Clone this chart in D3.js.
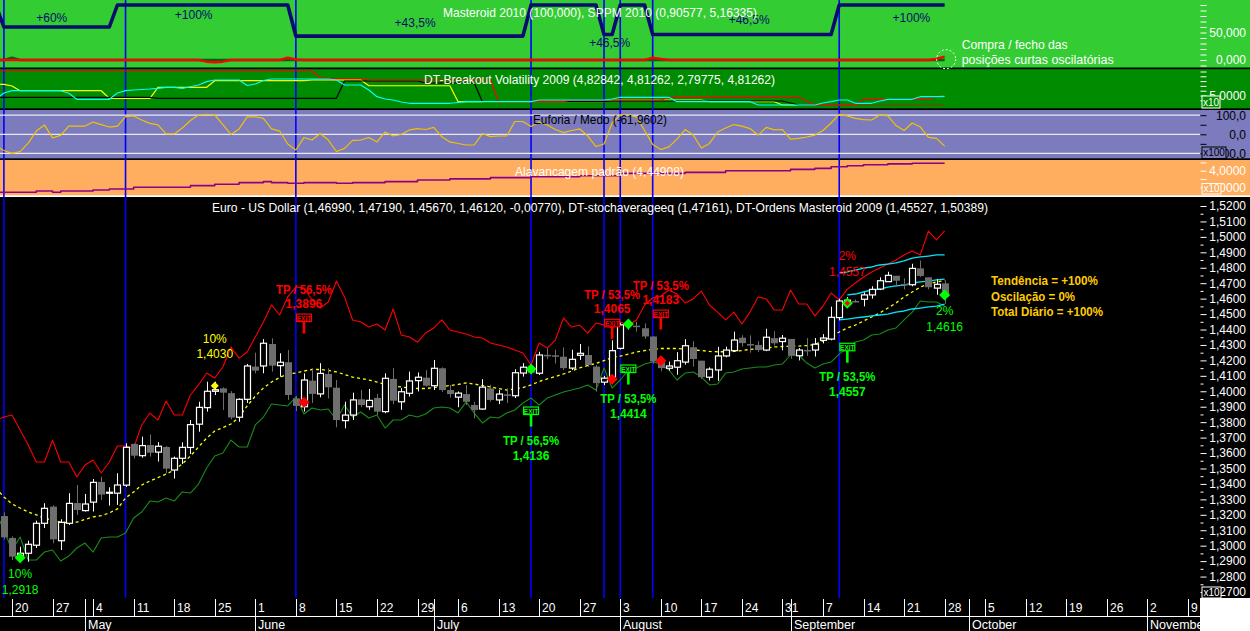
<!DOCTYPE html>
<html><head><meta charset="utf-8">
<script src="https://cdn.jsdelivr.net/npm/d3@7"></script>
<style>html,body{margin:0;padding:0;background:#000;overflow:hidden}svg{display:block}text{font-family:"Liberation Sans",Arial,sans-serif}</style>
</head><body><svg id="chart" width="1250" height="631"></svg>
<script>
// ---------- DATA (index 0 = 16 Apr 2009, one entry per trading day) ----------
const weekLabels = ["20","27","4","11","18","25","1","8","15","22","29","6","13","20","27","3","10","17","24","31","7","14","21","28","5","12","19","26","2","9"];
const monthLabels = ["May","June","July","August","September","October","November"];
const monthStartIdx = [11,32,54,77,98,120,142];
const signalDays = [1,16,37,66,75,77,81,104];

const open = [null,1.3192,1.3050,1.2920,1.2951,1.3003,1.3145,1.3253,1.3032,1.3145,
1.3276,1.3227,1.3282,1.3413,1.3340,1.3340,1.3392,1.3659,1.3583,1.3652,
1.3606,1.3639,1.3490,1.3566,1.3636,1.3787,1.3894,1.4000,1.4019,1.3988,
1.3832,1.3948,1.4160,1.4164,1.4306,1.4166,1.4188,1.3954,1.3900,1.4069,
1.3983,1.4112,1.4023,1.3810,1.3846,1.3948,1.3900,1.3957,1.3868,1.4080,
1.3932,1.3987,1.4069,1.4088,1.4036,1.4149,1.4008,1.3962,1.3982,1.3911,
1.3885,1.4019,1.3944,1.3980,1.3971,1.4118,1.4150,1.4117,1.4236,1.4233,
1.4224,1.4150,1.4233,1.4235,1.4160,1.4059,1.4091,1.4278,1.4430,1.4425,
1.4408,1.4355,1.4192,1.4149,1.4156,1.4189,1.4285,1.4198,1.4091,1.4138,
1.4229,1.4263,1.4347,1.4306,1.4300,1.4267,1.4344,1.4322,1.4339,1.4230,
1.4268,1.4267,1.4330,1.4338,1.4477,1.4565,1.4585,1.4596,1.4624,1.4662,
1.4710,1.4748,1.4695,1.4690,1.4796,1.4738,1.4668,1.4699];
const high = [null,1.3215,1.3060,1.2993,1.3032,1.3162,1.3275,1.3262,1.3171,1.3340,
1.3393,1.3335,1.3432,1.3447,1.3378,1.3469,1.3663,1.3663,1.3706,1.3721,
1.3671,1.3645,1.3577,1.3669,1.3814,1.3932,1.4062,1.4062,1.4025,1.4001,
1.3954,1.4177,1.4250,1.4338,1.4343,1.4246,1.4267,1.3970,1.4116,1.4149,
1.4182,1.4149,1.4073,1.3932,1.3991,1.4008,1.4015,1.3983,1.4116,1.4150,
1.4020,1.4127,1.4122,1.4137,1.4203,1.4155,1.4041,1.3999,1.4041,1.3932,
1.4079,1.4041,1.4008,1.4019,1.4143,1.4182,1.4170,1.4256,1.4278,1.4270,
1.4284,1.4269,1.4306,1.4291,1.4170,1.4100,1.4330,1.4445,1.4460,1.4450,
1.4440,1.4355,1.4210,1.4192,1.4253,1.4338,1.4325,1.4198,1.4155,1.4288,
1.4289,1.4386,1.4363,1.4362,1.4325,1.4405,1.4389,1.4365,1.4339,1.4280,
1.4345,1.4345,1.4370,1.4548,1.4600,1.4610,1.4595,1.4640,1.4680,1.4738,
1.4774,1.4748,1.4731,1.4826,1.4847,1.4738,1.4725,1.4719];
const low = [null,1.3040,1.2907,1.2907,1.2896,1.2985,1.3115,1.3015,1.2972,1.3134,
1.3199,1.3221,1.3221,1.3296,1.3260,1.3264,1.3380,1.3566,1.3570,1.3577,
1.3545,1.3469,1.3435,1.3529,1.3594,1.3738,1.3868,1.3976,1.3879,1.3818,
1.3803,1.3925,1.4117,1.4117,1.4127,1.4094,1.3944,1.3872,1.3869,1.3924,
1.3961,1.3954,1.3767,1.3760,1.3814,1.3897,1.3880,1.3848,1.3858,1.3917,
1.3880,1.3966,1.3999,1.4030,1.4008,1.3996,1.3959,1.3897,1.3911,1.3825,
1.3880,1.3933,1.3917,1.3924,1.3956,1.4095,1.4110,1.4105,1.4208,1.4180,
1.4137,1.4137,1.4203,1.4157,1.3997,1.4040,1.4050,1.4270,1.4400,1.4387,
1.4340,1.4180,1.4130,1.4134,1.4107,1.4173,1.4160,1.4080,1.4070,1.4068,
1.4220,1.4255,1.4290,1.4250,1.4255,1.4260,1.4295,1.4265,1.4210,1.4200,
1.4230,1.4225,1.4310,1.4330,1.4460,1.4545,1.4575,1.4550,1.4600,1.4655,
1.4710,1.4677,1.4660,1.4680,1.4740,1.4660,1.4625,1.4567];
const close = [null,1.3054,1.2929,1.2951,1.3009,1.3145,1.3242,1.3041,1.3151,1.3274,
1.3231,1.3270,1.3410,1.3331,1.3346,1.3393,1.3637,1.3583,1.3648,1.3602,
1.3644,1.3499,1.3566,1.3637,1.3784,1.3896,1.4000,1.4010,1.3991,1.3830,
1.3948,1.4164,1.4134,1.4311,1.4166,1.4188,1.3976,1.3905,1.4073,1.3983,
1.4116,1.4026,1.3814,1.3846,1.3944,1.3911,1.3941,1.3868,1.4084,1.3939,
1.3997,1.4067,1.4091,1.4036,1.4149,1.4008,1.3982,1.3988,1.3932,1.3878,
1.4027,1.3944,1.3982,1.3976,1.4120,1.4156,1.4120,1.4235,1.4233,1.4231,
1.4150,1.4207,1.4246,1.4170,1.4053,1.4085,1.4263,1.4430,1.4436,1.4418,
1.4355,1.4193,1.4150,1.4164,1.4198,1.4295,1.4209,1.4091,1.4143,1.4229,
1.4267,1.4332,1.4312,1.4304,1.4267,1.4350,1.4311,1.4344,1.4230,1.4267,
1.4265,1.4305,1.4345,1.4479,1.4585,1.4590,1.4578,1.4624,1.4660,1.4716,
1.4751,1.4716,1.4693,1.4796,1.4747,1.4674,1.4693,1.4612];

const upperBand = [1.3814,1.3833,1.3846,1.3749,1.3652,1.3542,1.3542,1.3684,1.3542,1.3542,
1.3445,1.3522,1.3555,1.3471,1.3542,1.3646,1.3646,1.3633,1.3782,1.3859,
1.3814,1.3937,1.3846,1.3846,1.3976,1.4041,1.4118,1.4086,1.4157,1.4287,
1.4215,1.4254,1.4352,1.4449,1.4559,1.4494,1.4611,1.4675,1.4669,1.4591,
1.4539,1.4578,1.4714,1.4611,1.4462,1.4449,1.4416,1.4436,1.4397,1.4533,
1.4365,1.4352,1.4319,1.4377,1.4410,1.4462,1.4397,1.4384,1.4371,1.4352,
1.4345,1.4313,1.4300,1.4287,1.4267,1.4248,1.4170,1.4313,1.4280,1.4332,
1.4475,1.4416,1.4429,1.4377,1.4442,1.4429,1.4410,1.4449,1.4429,1.4462,
1.4559,1.4604,1.4617,1.4656,1.4630,1.4572,1.4598,1.4649,1.4559,1.4513,
1.4462,1.4513,1.4436,1.4513,1.4611,1.4598,1.4526,1.4526,1.4656,1.4565,
1.4565,1.4488,1.4552,1.4637,1.4591,1.4662,1.4701,1.4740,1.4773,1.4798,
1.4824,1.4850,1.4883,1.4909,1.4883,1.5038,1.4980,1.5039];
const lowerBand = [1.3218,1.3101,1.2972,1.3056,1.2907,1.2907,1.2959,1.2972,1.2901,1.2933,
1.2985,1.3017,1.2959,1.3050,1.3056,1.3056,1.3082,1.3179,1.3218,1.3289,
1.3283,1.3309,1.3289,1.3348,1.3341,1.3399,1.3503,1.3581,1.3600,1.3684,
1.3639,1.3639,1.3782,1.3833,1.3918,1.3911,1.3905,1.3963,1.3853,1.3892,
1.3879,1.3885,1.3814,1.3911,1.3833,1.3866,1.3827,1.3846,1.3762,1.3814,
1.3814,1.3846,1.3833,1.3853,1.3892,1.3898,1.3892,1.3859,1.3931,1.3859,
1.3795,1.3833,1.3827,1.3859,1.3879,1.3924,1.3956,1.3911,1.3956,1.3976,
1.3995,1.4008,1.4021,1.4041,1.4008,1.4151,1.4021,1.4073,1.4138,1.4151,
1.4177,1.4190,1.4177,1.4138,1.4073,1.4118,1.4125,1.4092,1.4041,1.4047,
1.4118,1.4125,1.4144,1.4151,1.4157,1.4157,1.4170,1.4177,1.4235,1.4235,
1.4183,1.4151,1.4177,1.4190,1.4241,1.4280,1.4319,1.4332,1.4365,1.4371,
1.4397,1.4410,1.4462,1.4513,1.4585,1.4578,1.4578,1.4553];
const stochAvg = [1.3374,1.3315,1.3270,1.3244,1.3218,1.3199,1.3179,1.3163,1.3153,1.3149,
1.3153,1.3170,1.3186,1.3195,1.3212,1.3238,1.3309,1.3348,1.3393,1.3419,
1.3441,1.3464,1.3490,1.3529,1.3581,1.3639,1.3697,1.3743,1.3765,1.3788,
1.3833,1.3905,1.3969,1.4021,1.4060,1.4089,1.4112,1.4118,1.4131,1.4141,
1.4141,1.4135,1.4125,1.4109,1.4092,1.4083,1.4073,1.4060,1.4044,1.4034,
1.4028,1.4021,1.4018,1.4018,1.4024,1.4031,1.4037,1.4044,1.4054,1.4047,
1.4037,1.4028,1.4018,1.4008,1.4015,1.4024,1.4041,1.4063,1.4080,1.4096,
1.4112,1.4131,1.4151,1.4167,1.4180,1.4199,1.4219,1.4228,1.4241,1.4254,
1.4264,1.4271,1.4277,1.4277,1.4277,1.4274,1.4267,1.4264,1.4258,1.4256,
1.4256,1.4258,1.4264,1.4271,1.4277,1.4280,1.4287,1.4290,1.4293,1.4293,
1.4296,1.4303,1.4326,1.4352,1.4384,1.4410,1.4429,1.4455,1.4481,1.4507,
1.4539,1.4572,1.4611,1.4643,1.4675,1.4695,1.4708,1.4716];
const channelStart = 104;
const channelTop = [1.4766,1.4773,1.4785,1.4798,1.4805,1.4818,1.4824,1.4831,1.4844,1.4863,1.4870,1.4876,1.4883,1.4883];
const channelMid = [null,1.4624,1.4630,1.4643,1.4656,1.4662,1.4675,1.4682,1.4688,1.4701,1.4708,1.4714,1.4721,1.4727];
const channelLow = [1.4462,1.4468,1.4475,1.4481,1.4488,1.4494,1.4500,1.4513,1.4520,1.4533,1.4539,1.4546,1.4552,1.4565];

const masteroid = [100,60,60,60,60,60,60,60,60,60,
60,60,60,60,60,100,100,100,100,100,
100,100,100,100,100,100,100,100,100,100,
100,100,100,100,100,100,100,43.5,43.5,43.5,
43.5,43.5,43.5,43.5,43.5,43.5,43.5,43.5,43.5,43.5,
43.5,43.5,43.5,43.5,43.5,43.5,43.5,43.5,43.5,43.5,
43.5,43.5,43.5,43.5,43.5,43.5,100,100,100,100,
100,100,100,100,100,46.5,46.5,100,100,100,
100,46.5,46.5,46.5,46.5,46.5,46.5,46.5,46.5,46.5,
46.5,46.5,46.5,46.5,46.5,46.5,46.5,46.5,46.5,46.5,
46.5,46.5,46.5,46.5,100,100,100,100,100,100,
100,100,100,100,100,100,100,100];
const sppmShort = [0,0,0,0,0,0,0,0,0,0, 0,0,0,0,0,0,0,0,0,0, 0,0,0,0,0,0,-3,-4,-3,0,
0,0,0,0,0,0,4,1,0,0, 0,0,0,0,0,0,0,0,0,0, 0,0,0,0,0,0,0,0,0,0, 0,0,0,0,0,0,0,0,0,0,
0,0,0,0,0,0,0,0,0,0, 0,4,2,0,0,0,0,0,0,0, 0,0,0,0,0,0,0,0,0,0, 0,0,0,0,0,0,0,0,0,0,
0,0,0,0,0,0,2,6];
const sppmLong = [0,0,4,0,0,0,0,0,0,0, 0,0,0,0,0,0,0,0,0,0, 0,0,0,0,0,0,0,0,0,0,
0,0,0,0,0,0,0,0,0,0, 0,0,0,0,0,0,0,0,0,0, 0,0,0,0,0,0,0,0,0,0, 0,0,0,0,0,0,0,0,0,0,
0,0,0,0,0,0,0,0,0,0, 0,0,0,0,0,0,0,0,0,0, 0,0,0,0,0,0,0,0,0,0, 0,0,0,0,0,0,0,0,0,0,
0,0,0,0,0,0,0,0];
const masteroidLabels = [
  {i:6.9, level:60, text:"+60%", dy:-5},
  {i:24.4, level:100, text:"+100%", dy:13.5},
  {i:51.7, level:43.5, text:"+43,5%", dy:-9.5},
  {i:75.7, level:46.5, text:"+46,5%", dy:12.6},
  {i:92.9, level:46.5, text:"+46,5%", dy:-10},
  {i:112.9, level:100, text:"+100%", dy:16.5}
];

const brkRed = [10.10,10.10,10.10,10.10,10.10,10.10,10.10,10.10,10.10,10.10,
10.10,10.10,10.10,10.10,10.10,10.10,10.10,10.10,10.10,10.10,
10.10,10.10,10.10,10.10,10.10,10.10,10.10,10.10,10.10,10.10,
10.10,10.10,10.10,10.10,10.10,10.10,10.10,10.10,10.10,10.10,
8.71,8.54,8.54,8.54,8.54,8.54,8.23,8.23,8.23,8.23,
8.23,8.23,8.23,8.23,8.23,8.23,8.23,8.23,8.23,8.23,
8.23,8.23,3.71,3.71,3.71,3.71,3.71,3.71,3.71,3.71,
3.71,4.06,4.06,4.06,4.06,4.06,4.06,4.06,4.06,4.06,
4.06,4.06,4.06,4.63,4.63,4.63,4.63,4.63,4.63,4.63,
4.63,4.63,4.63,4.63,4.63,4.63,4.63,4.63,4.63,4.63,
3.85,3.02,3.02,3.02,3.02,3.02,3.02,4.21,4.21,4.21,
4.21,4.21,4.21,4.21,4.21,4.21,4.83,4.83];
const brkYellow = [7.33,7.33,6.98,6.00,6.00,6.00,6.00,6.00,6.00,6.00,
6.00,6.00,6.00,6.00,4.42,4.42,4.42,4.42,4.42,4.42,
6.71,6.71,6.71,6.71,6.71,6.71,6.71,8.08,8.08,8.08,
8.08,8.08,8.08,8.08,8.08,8.08,8.08,8.08,8.08,8.23,
8.23,8.23,8.23,8.23,8.23,8.23,7.03,7.03,7.03,7.03,
7.03,7.03,7.03,7.03,7.03,7.03,7.03,3.71,3.71,3.71,
3.71,3.71,3.71,3.71,3.71,3.71,3.71,3.71,3.71,3.71,
3.71,3.71,3.71,3.71,3.71,3.71,4.06,4.06,4.06,4.06,
4.06,4.06,4.06,4.06,4.06,4.06,4.06,4.06,3.71,3.71,
3.71,3.71,3.71,3.71,3.71,3.71,3.71,3.02,3.02,3.02,
3.02,3.02,3.02,3.02,3.02,3.02,3.02,3.02,3.02,3.02,
3.02,3.02,3.02,3.02,3.02,3.02,3.02,3.02];
const brkCyan = [4.21,5.52,6.00,6.00,6.00,6.00,6.00,6.00,6.00,5.46,
4.21,4.21,4.21,4.21,4.21,5.52,6.00,6.15,6.25,6.35,
6.50,6.71,6.71,6.50,6.83,7.19,7.88,8.23,8.23,8.23,
8.23,7.08,7.40,8.13,8.44,8.44,8.44,8.44,8.44,8.44,
8.44,8.44,8.23,7.19,7.19,7.19,6.15,4.75,4.27,4.06,
3.65,3.38,3.38,3.38,3.38,3.38,3.38,3.54,3.71,3.71,
3.71,3.71,3.71,3.71,3.71,3.71,3.71,4.06,4.06,4.06,
4.06,4.06,4.06,4.06,4.06,4.06,4.27,4.63,4.63,4.63,
4.63,4.63,4.63,4.63,3.71,3.71,3.71,3.71,3.71,3.71,
3.71,3.71,3.71,3.71,3.02,3.02,3.02,3.02,3.02,3.02,
3.02,3.02,3.44,3.71,4.06,4.06,3.38,3.38,3.38,3.85,
4.21,4.21,4.21,4.21,4.75,4.75,4.75,4.81];
const brkBlack = [4.63,4.63,4.63,4.63,4.63,4.63,4.63,4.63,4.63,4.63,
4.63,4.63,4.63,4.63,4.63,4.63,4.63,4.63,4.63,4.63,
4.42,4.42,4.42,4.42,4.42,4.42,4.42,4.42,4.42,4.42,
4.42,4.42,4.42,4.42,4.42,4.42,4.42,4.42,4.42,4.42,
4.42,4.42,4.42,8.02,8.02,8.02,8.02,8.02,8.02,8.02,
8.02,8.02,8.02,7.60,7.60,7.60,7.60,7.60,7.60,7.60,
3.71,3.71,3.71,3.71,3.71,3.71,3.71,3.71,3.71,3.71,
3.71,3.71,3.71,3.71,3.71,3.71,3.85,3.85,3.85,3.85,
3.85,3.85,3.85,3.85,3.85,3.85,3.85,3.85,3.85,3.85,
3.85,3.85,3.85,3.85,3.85,3.85,3.85,3.85,3.44,3.02,
3.02,3.02,3.02,3.02,3.02,3.02,3.02,3.02,3.02,3.02,
3.02,3.02,3.02,3.02,3.02,3.02,3.02,3.02];

const euforia = [-61,-85,-100,-91,-46,17,49,-19,-6,43,
43,43,64,51,38,43,93,96,75,57,
49,2,2,33,72,101,105,101,51,-1,
28,91,92,83,28,17,-51,-82,-17,-30,
4,-30,-90,-74,-32,-30,-17,-40,12,-9,
-1,23,30,25,36,-13,-40,-48,-56,-56,
4,-12,-9,-9,67,67,41,64,49,25,
9,20,28,-9,-64,-51,59,101,101,91,
20,-53,-80,-66,-25,25,-4,-72,-48,12,
33,51,43,30,-4,36,23,25,-25,-21,
-14,-4,20,59,104,96,83,77,75,101,
96,46,20,59,38,-16,-21,-62];

const leverage = [2.70,2.70,2.70,2.70,2.70,2.78,2.78,2.70,2.78,2.78,
2.78,2.78,2.84,2.84,2.90,2.90,2.90,3.00,3.00,3.00,
3.00,3.00,3.00,3.00,3.10,3.10,3.10,3.18,3.18,3.18,
3.28,3.28,3.28,3.34,3.28,3.28,3.24,3.24,3.28,3.28,
3.28,3.28,3.24,3.24,3.28,3.28,3.28,3.28,3.34,3.34,
3.34,3.34,3.44,3.44,3.44,3.44,3.51,3.51,3.51,3.51,
3.51,3.58,3.58,3.58,3.58,3.58,3.64,3.64,3.64,3.64,
3.64,3.64,3.70,3.70,3.70,3.70,3.70,3.84,3.84,3.84,
3.84,3.84,3.84,3.84,3.84,3.90,3.90,3.90,3.90,3.90,
4.00,4.00,4.00,4.00,4.00,4.00,4.00,4.00,4.08,4.08,
4.08,4.14,4.14,4.24,4.24,4.30,4.30,4.36,4.36,4.36,
4.41,4.41,4.41,4.449,4.449,4.449,4.449,4.449];

const entries = [
  {i:3, v:1.2922, color:"#00ff00", pct:"10%", price:"1,2918", below:true},
  {i:27, v:1.4036, color:"#ffff00", pct:"10%", price:"1,4030", below:false, small:true},
  {i:38, v:1.3929, color:"#ff0000"},
  {i:66, v:1.4144, color:"#00ff00"},
  {i:76, v:1.4078, color:"#ff0000"},
  {i:78, v:1.4436, color:"#00ff00"},
  {i:82, v:1.4198, color:"#ff0000"},
  {i:105, v:1.4570, color:"#00ff00", inner:"#ff0000", pct:"2%", price:"1,4557", labelColor:"#ff0000", below:false},
  {i:117, v:1.4624, color:"#00ff00", pct:"2%", price:"1,4616", below:true}
];
const exits = [
  {i:38, v:1.4500, color:"#ff0000", tp:"TP / 56,5%", price:"1,3896", side:"short"},
  {i:76, v:1.4466, color:"#ff0000", tp:"TP / 53,5%", price:"1,4065", side:"short"},
  {i:82, v:1.4526, color:"#ff0000", tp:"TP / 53,5%", price:"1,4183", side:"short"},
  {i:66, v:1.3898, color:"#00ff00", tp:"TP / 56,5%", price:"1,4136", side:"long"},
  {i:78, v:1.4170, color:"#00ff00", tp:"TP / 53,5%", price:"1,4414", side:"long"},
  {i:105, v:1.4311, color:"#00ff00", tp:"TP / 53,5%", price:"1,4557", side:"long"}
];
const summaryLines = ["Tendência = +100%","Oscilação = 0%","Total Diário = +100%"];

// ---------- DRAWING ----------
const svg = d3.select("#chart");
const defs = svg.append("defs");
const FONT = "Liberation Sans, Arial, sans-serif";
const comma = s => s.replace(".", ",");

const x = d3.scaleLinear().domain([0,147]).range([-4.22, 1187.95]);
const yMain = d3.scaleLinear().domain([1.27,1.52]).range([592,206]);
const yP1 = d3.scaleLinear().domain([0,100]).range([60,5]);
const yP2 = d3.scaleLinear().domain([5,10]).range([95.5,71.5]);
const yP3 = d3.scaleLinear().domain([-100,100]).range([153.4,115.2]);
const yP4 = d3.scaleLinear().domain([3,4]).range([187.3,170.7]);

const panels = [
  {id:"p1", y0:0, y1:68, fill:"#33cc33"},
  {id:"p2", y0:69, y1:109, fill:"#008c00"},
  {id:"p3", y0:110, y1:159, fill:"#7b7bbd"},
  {id:"p4", y0:160, y1:196, fill:"#ffad5e"},
  {id:"pm", y0:197, y1:598, fill:"#000000"}
];
panels.forEach(p => {
  svg.append("rect").attr("x",0).attr("y",p.y0).attr("width",1250).attr("height",p.y1-p.y0).attr("fill",p.fill);
  defs.append("clipPath").attr("id","clip-"+p.id).append("rect").attr("x",0).attr("y",p.y0).attr("width",1200).attr("height",p.y1-p.y0);
});
[[67.5,"#000"],[108.3,"#000"],[158.3,"#000"],[195.3,"#fff"]].forEach(([y,c]) =>
  svg.append("rect").attr("x",0).attr("y",y).attr("width",1250).attr("height",1.7).attr("fill",c));

// x axis area
svg.append("rect").attr("x",0).attr("y",598).attr("width",1200).attr("height",33).attr("fill","#000");
svg.append("rect").attr("x",1200).attr("y",598).attr("width",50).attr("height",33).attr("fill","#fff");

// signal lines
const gSig = svg.append("g");
signalDays.forEach(i => gSig.append("line").attr("x1",x(i)).attr("x2",x(i)).attr("y1",0).attr("y2",598)
  .attr("stroke","#0000ff").attr("stroke-width",1.6));

const pts = arr => arr.map((v,i)=>({i,v}));
function drawLine(g, arr, ys, color, w, opts={}) {
  const gen = d3.line().defined(d => d.v != null).x(d => x(d.i)).y(d => ys(d.v));
  if (opts.curve) gen.curve(opts.curve);
  const p = g.append("path").datum(opts.data || pts(arr)).attr("d", gen).attr("fill","none")
    .attr("stroke",color).attr("stroke-width",w).attr("stroke-linejoin","round");
  if (opts.dash) p.attr("stroke-dasharray", opts.dash);
  return p;
}

// ---- Panel 1: Masteroid / SPPM
const g1 = svg.append("g").attr("clip-path","url(#clip-p1)");
drawLine(g1, sppmLong, yP1, "#006400", 2.5);
drawLine(g1, sppmShort, yP1, "#ff0000", 2.5);
drawLine(g1, masteroid, yP1, "#0b0b6e", 3.6);
masteroidLabels.forEach(l => svg.append("text").attr("x",x(l.i)).attr("y",yP1(l.level)+l.dy)
  .attr("text-anchor","middle").attr("font-size",12).attr("fill","#0b0b6e").attr("font-family",FONT).text(l.text));
svg.append("text").attr("x",443).attr("y",16.5).attr("font-size",13).attr("fill","#fff").attr("font-family",FONT)
  .attr("textLength",314).attr("lengthAdjust","spacingAndGlyphs").text("Masteroid 2010 (100,000), SPPM 2010 (0,90577, 5,16335)");
const endX = x(sppmShort.length-1), endY = yP1(sppmShort[sppmShort.length-1]);
svg.append("circle").attr("cx",endX+1.5).attr("cy",endY+2.5).attr("r",9.5).attr("fill","none")
  .attr("stroke","#fff").attr("stroke-width",1).attr("stroke-dasharray","2,2");
svg.append("text").attr("x",endX+17).attr("y",48.5).attr("font-size",13).attr("fill","#fff").attr("font-family",FONT)
  .attr("textLength",106).attr("lengthAdjust","spacingAndGlyphs").text("Compra / fecho das");
svg.append("text").attr("x",endX+17).attr("y",63.5).attr("font-size",13).attr("fill","#fff").attr("font-family",FONT)
  .attr("textLength",152).attr("lengthAdjust","spacingAndGlyphs").text("posições curtas oscilatórias");

// ---- Panel 2: Breakout volatility
const g2 = svg.append("g").attr("clip-path","url(#clip-p2)");
drawLine(g2, brkYellow, yP2, "#ffff00", 1.2);
drawLine(g2, brkBlack, yP2, "#000000", 1.2);
drawLine(g2, brkRed, yP2, "#ff0000", 1.2);
drawLine(g2, brkCyan, yP2, "#00ffff", 1.2);
svg.append("text").attr("x",424).attr("y",83.5).attr("font-size",13).attr("fill","#fff").attr("font-family",FONT)
  .attr("textLength",351).attr("lengthAdjust","spacingAndGlyphs").text("DT-Breakout Volatility 2009 (4,82842, 4,81262, 2,79775, 4,81262)");

// ---- Panel 3: Euforia / Medo
const g3 = svg.append("g").attr("clip-path","url(#clip-p3)");
[-100,0,100].forEach(v => g3.append("line").attr("x1",0).attr("x2",1200).attr("y1",yP3(v)).attr("y2",yP3(v))
  .attr("stroke","#e8e8f0").attr("stroke-width",1.2));
drawLine(g3, euforia, yP3, "#f2c200", 1.2);
svg.append("text").attr("x",533).attr("y",124).attr("font-size",13).attr("fill","#000").attr("font-family",FONT)
  .attr("textLength",134).attr("lengthAdjust","spacingAndGlyphs").text("Euforia / Medo (-61,9602)");

// ---- Panel 4: Alavancagem
const g4 = svg.append("g").attr("clip-path","url(#clip-p4)");
drawLine(g4, leverage, yP4, "#8b008b", 1.6, {curve:d3.curveStepAfter});
svg.append("text").attr("x",515).attr("y",175.5).attr("font-size",13).attr("fill","#fff").attr("font-family",FONT)
  .attr("textLength",169).attr("lengthAdjust","spacingAndGlyphs").text("Alavancagem padrão (4,44908)");

// ---- Main chart
const gm = svg.append("g").attr("clip-path","url(#clip-pm)");
svg.append("text").attr("x",212).attr("y",211.5).attr("font-size",12.5).attr("fill","#fff").attr("font-family",FONT)
  .attr("textLength",776).attr("lengthAdjust","spacingAndGlyphs")
  .text("Euro - US Dollar (1,46990, 1,47190, 1,45670, 1,46120, -0,00770), DT-stochaverageeq (1,47161), DT-Ordens Masteroid 2009 (1,45527, 1,50389)");
drawLine(gm, upperBand, yMain, "#ff0000", 1.1);
drawLine(gm, lowerBand, yMain, "#1a8c1a", 1.1);
drawLine(gm, stochAvg, yMain, "#ffff00", 1.3, {dash:"3,3"});
[channelTop, channelMid, channelLow].forEach(ch =>
  drawLine(gm, null, yMain, "#00e5ff", 1.3, {data: ch.map((v,k)=>({i:channelStart+k, v}))}));

// candles
const candles = open.map((o,i)=>({i,o,h:high[i],l:low[i],c:close[i]})).filter(d=>d.o!=null);
const bw = 6;
candles.forEach(d => {
  const up = d.c >= d.o;
  const col = up ? "#ffffff" : "#6e6e6e";
  const cx = Math.round(x(d.i)) + 0.5;
  const yt = yMain(Math.max(d.o,d.c)), yb = yMain(Math.min(d.o,d.c));
  gm.append("line").attr("x1",cx).attr("x2",cx).attr("y1",yMain(d.h)).attr("y2",yMain(d.l)).attr("stroke",col).attr("stroke-width",1);
  if (up) {
    gm.append("rect").attr("x",cx-bw/2).attr("y",yt).attr("width",bw).attr("height",Math.max(1,yb-yt))
      .attr("fill","#000").attr("stroke","#fff").attr("stroke-width",1.2);
  } else {
    gm.append("rect").attr("x",cx-bw/2-0.5).attr("y",yt).attr("width",bw+1).attr("height",Math.max(1.5,yb-yt)).attr("fill",col);
  }
});

// exits (flags)
exits.forEach(e => {
  const cx = x(e.i), top = yMain(e.v);
  gm.append("line").attr("x1",cx).attr("x2",cx).attr("y1",top+7).attr("y2",top+19.5).attr("stroke",e.color).attr("stroke-width",2.6);
  gm.append("rect").attr("x",cx-7.5).attr("y",top).attr("width",15).attr("height",7.5).attr("fill","#000").attr("stroke",e.color).attr("stroke-width",1.2);
  gm.append("text").attr("x",cx).attr("y",top+6.6).attr("text-anchor","middle").attr("font-size",6.5).attr("font-weight","bold")
    .attr("fill",e.color).attr("font-family",FONT).text("EXIT");
  const tpY = e.side==="short" ? top-20.5 : top+38;
  const prY = e.side==="short" ? top-6.5 : top+53;
  gm.append("text").attr("x",cx-28).attr("y",tpY).attr("font-size",12).attr("font-weight","bold").attr("fill",e.color)
    .attr("font-family",FONT).attr("textLength",56).attr("lengthAdjust","spacingAndGlyphs").text(e.tp);
  gm.append("text").attr("x",cx).attr("y",prY).attr("text-anchor","middle").attr("font-size",12).attr("font-weight","bold")
    .attr("fill",e.color).attr("font-family",FONT).text(e.price);
});

// entries (diamonds)
entries.forEach(e => {
  const cx = x(e.i), cy = yMain(e.v);
  const s = e.small ? 4 : 5.5;
  gm.append("path").attr("d",`M${cx},${cy-s}L${cx+s},${cy}L${cx},${cy+s}L${cx-s},${cy}Z`).attr("fill",e.color);
  if (e.inner) gm.append("path").attr("d",`M${cx},${cy-2.8}L${cx+2.8},${cy}L${cx},${cy+2.8}L${cx-2.8},${cy}Z`).attr("fill",e.inner);
  if (e.pct) {
    const lc = e.labelColor || e.color;
    const y1 = e.below ? cy+20 : cy-43, y2 = e.below ? cy+36 : cy-27.5;
    gm.append("text").attr("x",cx).attr("y",y1).attr("text-anchor","middle").attr("font-size",12).attr("fill",lc).attr("font-family",FONT).text(e.pct);
    gm.append("text").attr("x",cx).attr("y",y2).attr("text-anchor","middle").attr("font-size",12).attr("fill",lc).attr("font-family",FONT).text(e.price);
  }
});

// summary
summaryLines.forEach((t,k) => svg.append("text").attr("x",991).attr("y",285+k*15.5).attr("font-size",12).attr("font-weight","bold")
  .attr("fill","#ffcc00").attr("font-family",FONT).attr("textLength",[107,84,112][k]).attr("lengthAdjust","spacingAndGlyphs").text(t));

// ---------- right axes ----------
function rightAxis(scale, ticks, fmt, color, size) {
  const g = svg.append("g").attr("transform","translate(1200.5,0)")
    .call(d3.axisRight(scale).tickValues(ticks).tickSize(size||6).tickFormat(fmt));
  g.select(".domain").remove();
  g.attr("font-family",null).attr("font-size",null);
  g.selectAll(".tick line").attr("stroke",color);
  g.selectAll(".tick text").attr("fill",color).attr("x",45.5).attr("text-anchor","end").attr("font-size",12).attr("font-family",FONT);
  return g;
}
rightAxis(yMain, d3.range(127,153).map(k=>k/100), v=>comma(d3.format(".4f")(v)), "#fff");
rightAxis(yMain, d3.range(127,152).map(k=>(k+0.5)/100), ()=>"", "#fff", 3);
rightAxis(yP1, d3.range(-10,101,10), v => (v===0||v===50) ? comma(d3.format(".3f")(v)) : "", "#fff");
rightAxis(yP2, [4,5,6,7,8,9,10], v => v===5 ? "5,0000" : "", "#fff");
rightAxis(yP3, [-100,-50,0,50,100], v => (v%100===0) ? comma(d3.format(".1f")(v)) : "", "#000");
rightAxis(yP4, [3,3.5,4,4.5], v => Number.isInteger(v) ? comma(d3.format(".4f")(v)) : "", "#fff");

function multBox(x0, y0, w, h, label, fill, color) {
  svg.append("rect").attr("x",x0).attr("y",y0).attr("width",w).attr("height",h).attr("fill",fill).attr("stroke",color).attr("stroke-width",1);
  svg.append("text").attr("x",x0+w/2).attr("y",y0+h-2.5).attr("text-anchor","middle").attr("font-size",10).attr("fill",color).attr("font-family",FONT).text(label);
}
multBox(1202, 96, 18, 12, "x10", "#008c00", "#fff");
multBox(1202, 147, 24, 11.5, "x100", "#7b7bbd", "#000");
multBox(1202, 183.5, 19, 10.5, "x10", "#ffad5e", "#fff");
multBox(1202, 587, 19, 11, "x10", "#000", "#fff");

// ---------- x axis ----------
const gx = svg.append("g");
gx.append("line").attr("x1",0).attr("x2",1200).attr("y1",616.5).attr("y2",616.5).attr("stroke","#fff");
weekLabels.forEach((t,k) => {
  const i = 2 + 5*k, xx = Math.round(x(i)) + 0.5;
  gx.append("line").attr("x1",xx).attr("x2",xx).attr("y1",599).attr("y2",616).attr("stroke","#fff");
  gx.append("text").attr("x",xx+2.5).attr("y",611.5).attr("font-size",12).attr("fill","#fff").attr("font-family",FONT).text(t);
});
monthLabels.forEach((m,k) => {
  const xx = Math.round(x(monthStartIdx[k])) + 0.5;
  gx.append("line").attr("x1",xx).attr("x2",xx).attr("y1",599).attr("y2",631).attr("stroke","#fff");
  gx.append("text").attr("x",xx+2.5).attr("y",629).attr("font-size",12.5).attr("fill","#fff").attr("font-family",FONT).text(m);
});
svg.append("rect").attr("x",1200).attr("y",598).attr("width",50).attr("height",33).attr("fill","#fff");
</script></body></html>
